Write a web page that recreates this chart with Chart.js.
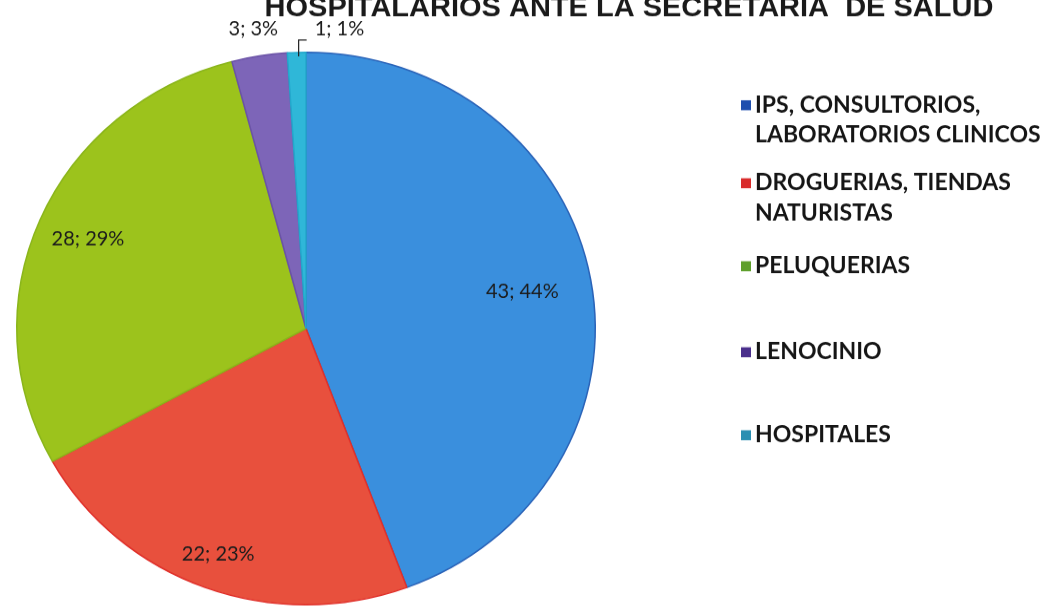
<!DOCTYPE html>
<html>
<head>
<meta charset="utf-8">
<script src="https://cdn.jsdelivr.net/npm/chart.js@4.4.0/dist/chart.umd.min.js"></script>
<style>
  html, body { margin: 0; padding: 0; background: #fff; overflow: hidden; }
  /* the scanned pie is slightly flattened vertically */
  #wrap { position: relative; width: 1057px; height: 640px; transform: scaleY(0.955); transform-origin: 0 0; }
</style>
</head>
<body>
<div id="wrap"><canvas id="pieChart"></canvas></div>
<script>
// chart data
const titleText = 'HOSPITALARIOS ANTE LA SECRETARIA  DE SALUD';
const categories = ['IPS, CONSULTORIOS, LABORATORIOS CLINICOS', 'DROGUERIAS, TIENDAS NATURISTAS', 'PELUQUERIAS', 'LENOCINIO', 'HOSPITALES'];
const legendLines = [['IPS, CONSULTORIOS,', 'LABORATORIOS CLINICOS'], ['DROGUERIAS, TIENDAS', 'NATURISTAS'], ['PELUQUERIAS'], ['LENOCINIO'], ['HOSPITALES']];
const counts = [43, 22, 28, 3, 1];

const sliceColors = ['#3a8fdd', '#e8503d', '#9cc31c', '#7d65b8', '#2fb7d8'];
const sliceBorders = ['#2a63b8', '#e0302a', '#8ab51a', '#6a52a6', '#23a8cc'];
const legendColors = ['#1f4fae', '#d92b2b', '#5e9f2b', '#4a2f8c', '#2a8fb2'];
const labelRadius = [0.76, 0.87, 0.82];
const SQ = 0.955;

var total = counts.reduce((a, b) => a + b, 0);

// text drawn un-squashed at canvas coords
function putText(ctx, t, x, y) {
    ctx.save();
    ctx.translate(x, y);
    ctx.scale(1, 1 / SQ);
    ctx.fillText(t, 0, 0);
    ctx.restore();
}

// title, labels and legend drawn on top
const extras = {
    id: 'extras',
    afterDraw(chart) {
        const ctx = chart.ctx;
        ctx.save();

        // title (cut at the top as in the scan)
        ctx.fillStyle = '#1a1a1a';
        ctx.font = 'bold 29px "Liberation Sans", Arial, sans-serif';
        ctx.textAlign = 'center';
        ctx.textBaseline = 'alphabetic';
        putText(ctx, titleText, 629, 16.5 / SQ);

        // slice labels
        const arcs = chart.getDatasetMeta(0).data;
        ctx.font = '20px Lato, "Open Sans", sans-serif';
        ctx.fillStyle = '#1c1c1c';
        ctx.textBaseline = 'middle';
        arcs.forEach((arc, i) => {
            const p = arc.getProps(['x', 'y', 'startAngle', 'endAngle', 'outerRadius']);
            const mid = (p.startAngle + p.endAngle) / 2;
            const txt = counts[i] + '; ' + Math.round(counts[i] / total * 100) + '%';
            if (counts[i] >= 10) {
                const r = p.outerRadius * labelRadius[i];
                ctx.textAlign = 'center';
                putText(ctx, txt, p.x + Math.cos(mid) * r, p.y + Math.sin(mid) * r);
            } else {
                const ex = p.x + Math.cos(mid) * p.outerRadius;
                const ey = p.y + Math.sin(mid) * p.outerRadius;
                if (i === 3) {
                    ctx.textAlign = 'center';
                    putText(ctx, txt, ex - 6, 29 / SQ);
                } else {
                    ctx.strokeStyle = '#222';
                    ctx.lineWidth = 1.2;
                    ctx.beginPath();
                    ctx.moveTo(ex + 2, ey + 4);
                    ctx.lineTo(ex + 2, 40 / SQ);
                    ctx.lineTo(ex + 10, 40 / SQ);
                    ctx.stroke();
                    ctx.textAlign = 'left';
                    putText(ctx, txt, ex + 18, 29 / SQ);
                }
            }
        });

        // legend
        const rowY = [105, 183, 266, 352, 435];
        ctx.font = 'bold 23px Lato, "Open Sans", sans-serif';
        ctx.textAlign = 'left';
        legendLines.forEach((lines, i) => {
            ctx.fillStyle = legendColors[i];
            ctx.fillRect(741, rowY[i] / SQ - 5, 10, 10 / SQ);
            ctx.fillStyle = '#151515';
            lines.forEach((l, k) => putText(ctx, l, 755, (rowY[i] + k * 30) / SQ));
        });
        ctx.restore();
    }
};

new Chart(document.getElementById('pieChart'), {
    type: 'pie',
    data: {
        labels: categories,
        datasets: [{
            data: counts,
            backgroundColor: sliceColors,
            borderColor: sliceBorders,
            borderWidth: 1.5
        }]
    },
    options: {
        responsive: true,
        maintainAspectRatio: false,
        animation: false,
        layout: { padding: { top: 54, bottom: 6, left: 15, right: 460 } },
        plugins: {
            legend: { display: false },
            tooltip: { enabled: false }
        }
    },
    plugins: [extras]
});
</script>
</body>
</html>
